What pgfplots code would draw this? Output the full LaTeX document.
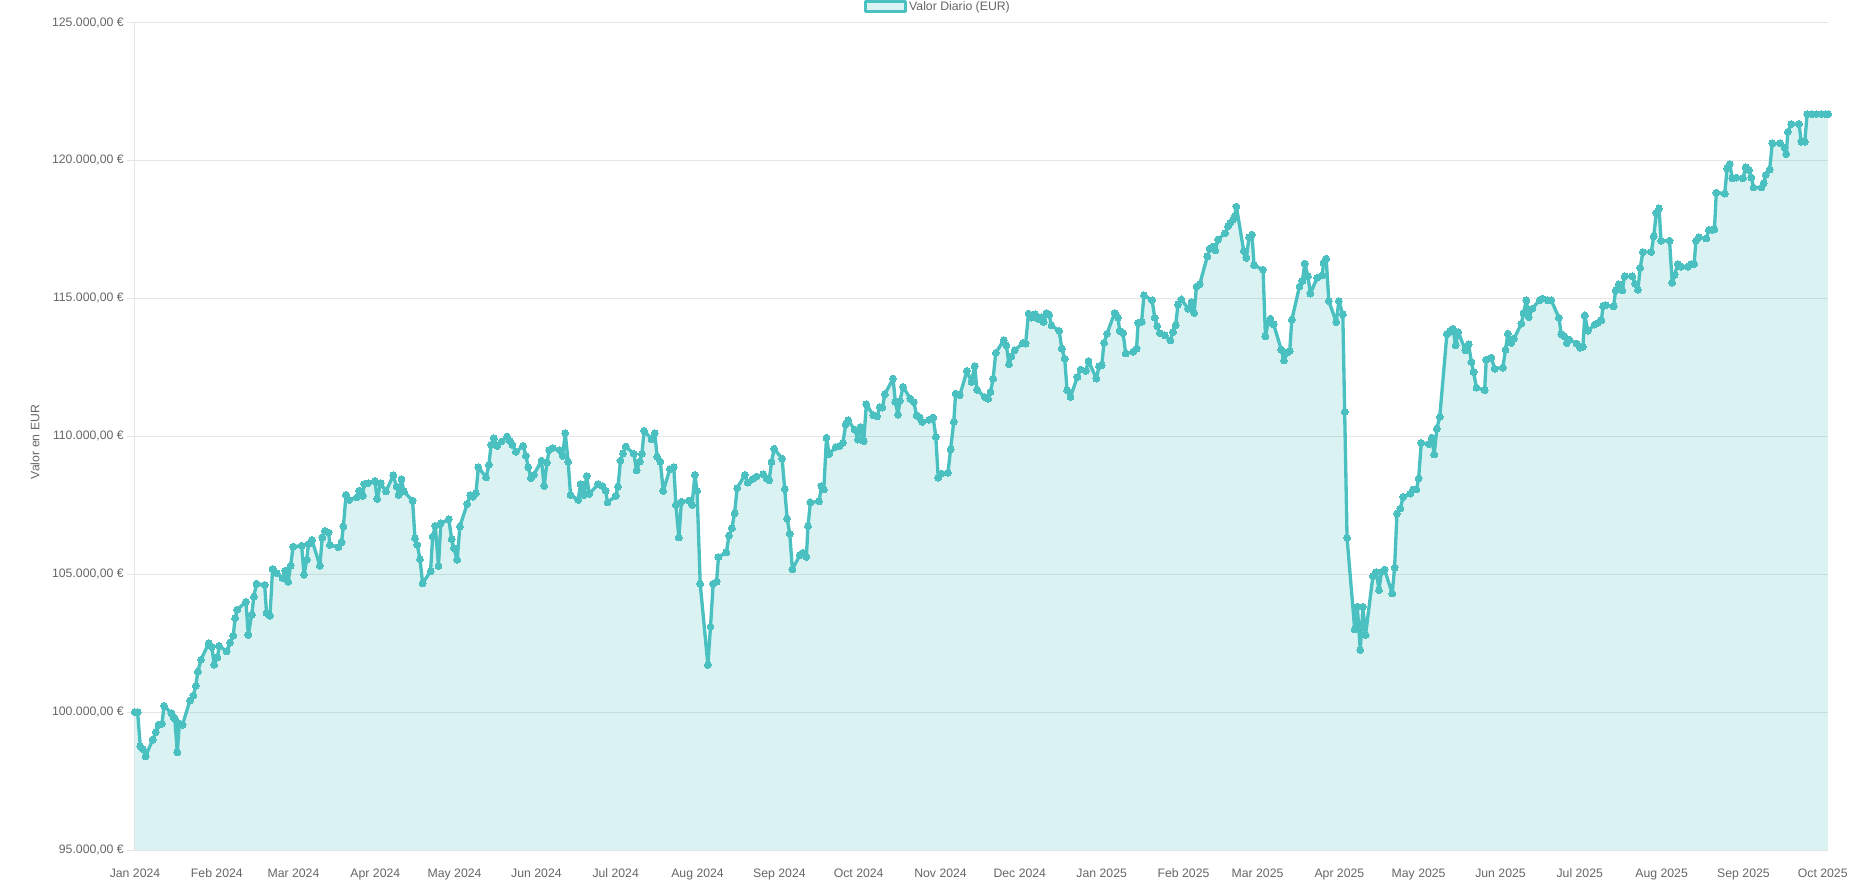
\documentclass[border=0pt]{standalone}
\usepackage{fontspec}
\setmainfont{Liberation Sans}
\usepackage{pgfplots}
\usepackage{pgfplotstable}
\pgfplotsset{compat=1.18}
\definecolor{tealc}{RGB}{75,192,192}
\definecolor{tealfill}{RGB}{219,242,242}
\definecolor{gridc}{RGB}{229,229,229}
\definecolor{txt}{RGB}{102,102,102}

\pgfplotstableread{
x y
0 100000
1 100000
2 98760
3 98660
4 98400
6.7 99000
7.9 99275
8.9 99540
10.2 99580
11 100230
13.8 99960
14.5 99840
15.1 99750
16 98540
16.8 99580
18 99540
20.8 100420
22.1 100600
23 100950
23.8 101470
25 101900
27.9 102500
29.1 102360
30 101715
31.2 101990
31.9 102400
34.7 102200
36 102520
37.2 102770
37.9 103400
38.7 103710
42 104000
42.9 102800
44.2 103530
45 104190
46 104650
49.1 104610
49.8 103590
51.1 103490
52.1 105190
53.6 105040
55.9 104855
56.9 105130
58 104730
58.9 105310
59.9 106000
63.1 106030
64 104980
65 105520
65.7 106100
67 106240
70 105310
70.9 106330
71.9 106570
73.3 106510
73.8 106060
77 105980
78.2 106160
78.9 106730
79.9 107870
81.1 107690
83.9 107780
84.9 108030
86.2 107840
86.8 108270
88.3 108300
90.8 108380
91.7 107730
93 108300
95 108000
97.8 108580
99 108180
99.8 107870
100.9 108450
101.8 108000
105.1 107660
106 106300
106.9 106060
107.9 105540
108.9 104670
111.9 105100
112.7 106360
113.7 106750
114.9 105300
115.8 106850
118.8 106990
119.9 106270
120.7 105940
122 105520
123 106730
125.8 107550
127 107870
128 107810
129.1 107930
130 108880
132.9 108510
134 108960
134.8 109690
135.9 109930
137.1 109650
138.8 109810
140.9 109990
141.9 109840
142.9 109690
144.2 109440
147 109650
148 109290
148.9 108880
149.9 108480
151 108600
153.9 109120
154.9 108200
156 109050
156.8 109500
158.1 109570
160.9 109500
161.9 109290
162.9 110110
164 109080
164.9 107870
167.8 107690
168.7 108270
170 107870
171 108560
172 107910
175.4 108270
177 108200
178.2 108030
178.9 107600
182 107840
182.9 108180
183.8 109120
184.8 109380
185.8 109630
188.9 109360
189.9 108760
191.1 109080
191.9 109360
192.8 110200
195.6 109890
196.8 110110
197.7 109260
198.9 109080
200 108020
202.5 108800
204 108880
204.8 107510
205.9 106330
206.9 107630
209.8 107670
210.9 107510
212 108600
212.8 108020
214 104650
216.9 101710
217.9 103100
218.9 104650
220.2 104730
220.9 105620
223.9 105790
224.9 106400
226 106670
227 107210
228 108120
230.9 108600
232 108320
233.8 108450
235.3 108540
237.9 108620
239.1 108470
240.1 108400
241 109070
242 109550
245 109190
246 108080
246.9 107020
247.9 106470
248.9 105170
251.7 105690
252.9 105770
254.2 105630
254.8 106740
255.7 107600
259 107640
259.9 108200
260.8 108070
261.8 109950
262.8 109350
265.3 109610
266.8 109650
268 109760
269.1 110430
270 110580
272.5 110240
273.7 109880
274.7 110340
275.9 109820
276.9 111160
279.5 110760
281 110720
282 111060
283 111040
283.9 111520
287 112090
287.9 111240
288.9 110780
289.6 111280
290.8 111790
293.6 111360
294.9 111240
295.9 110760
297.1 110680
298.1 110520
300.6 110600
302.2 110680
303.2 109980
304.1 108500
305.3 108650
307.8 108680
308.8 109530
310 110520
310.7 111550
312.3 111490
315 112370
316.7 111970
317.9 112540
318.8 111690
321.7 111420
323 111360
323.9 111610
324.9 112090
325.9 113020
328.9 113480
329.9 113300
330.9 112610
331.8 112900
333.1 113120
336.2 113380
337.2 113360
338.3 114450
339.5 114300
340.8 114420
342 114250
343.2 114320
344 114140
345.1 114470
346.1 114410
347 114020
349.9 113820
350.9 113180
352 112810
352.9 111670
354.2 111430
356.8 112150
358 112420
360 112370
361 112730
364 112090
365 112540
366 112570
366.9 113390
368 113720
370.9 114470
372.2 114300
372.8 113820
374.1 113740
375.1 113000
377.9 113060
379.2 113180
379.8 114110
381.1 114140
382 115110
385.1 114930
386.1 114300
387 113990
388 113740
389.9 113660
392 113480
393 113780
394 114020
394.9 114780
396.2 114960
398.7 114630
400 114870
401 114470
401.9 115430
403.1 115510
406 116520
406.9 116800
408.1 116880
409 116740
410 117130
412.8 117370
413.8 117610
414.7 117730
415.7 117850
416.3 117970
417 118330
419.8 116710
420.8 116470
421.8 117220
422.9 117310
423.7 116200
427.1 116040
428 113620
429 114110
429.9 114260
431.1 114060
434 113140
435 112750
436.1 113030
437.2 113090
438 114230
440.9 115430
442 115630
442.9 116260
444.1 115800
445 115170
447.6 115750
449.5 115830
450 116280
451 116440
452 114900
454.8 114140
455.8 114900
457.3 114420
458 110880
458.9 106320
461.8 103000
462.8 103820
463.9 102250
464.9 103820
465.9 102790
468.7 104930
470 105080
471 104420
471.9 105080
473.1 105170
476 104300
476.9 105240
477.8 107200
479.1 107380
480.1 107800
482.9 107920
483.9 108070
485.2 108070
486 108470
487 109760
489.9 109710
491 109950
491.9 109340
492.9 110280
494 110700
496.7 113700
498 113820
499 113900
500 113300
501 113780
503.7 113120
504.9 113330
506 112690
506.8 112330
507.9 111760
511 111670
511.6 112780
513.5 112850
514.8 112450
517.9 112490
518.9 113140
519.8 113720
521.1 113380
522.1 113540
524.9 114080
525.7 114470
526.8 114930
527.7 114320
529 114630
531.8 114930
533 114990
534.9 114930
536.2 114930
539.1 114300
540 113700
541.2 113620
542.1 113380
543.1 113500
545.9 113360
547.2 113210
548.2 113240
548.9 114380
550.1 113820
552.6 114050
553.9 114110
555.2 114200
555.8 114710
556.8 114750
559.8 114710
560.6 115290
561.8 115510
563.1 115290
564 115800
566.9 115800
568 115530
569 115310
569.9 116110
570.9 116680
574.1 116680
575 117250
576 118100
577 118260
577.8 117090
581 117090
582 115570
582.9 115850
584.1 116240
585.4 116150
587.9 116150
589.2 116240
590.3 116240
591 117090
592.1 117210
594.9 117170
595.9 117480
597.3 117480
598 117500
598.7 118830
601.9 118800
602.8 119710
603.8 119870
604.8 119350
606.3 119380
608.8 119350
609.8 119750
611.1 119650
612 119380
612.8 119020
615.8 119020
616.6 119170
617.4 119470
618.9 119670
619.9 120620
622.9 120620
624.6 120470
625.2 120230
625.8 121040
627.1 121320
630 121320
630.9 120680
632.2 120680
633.1 121680
634.8 121680
636.6 121680
638.5 121680
640 121680
641 121680
}\data

\begin{document}
\begin{tikzpicture}
\begin{axis}[
  scale only axis,
  width=1269.75pt, height=620.6pt,
  xmin=0, xmax=641, ymin=95000, ymax=125000,
  axis x line*=bottom, axis y line*=left,
  axis line style={draw=gridc, line width=0.75pt},
  ymajorgrids, grid style={draw=gridc, line width=0.75pt},
  ytick={95000,100000,105000,110000,115000,120000,125000},
  yticklabels={{95.000,00 €},{100.000,00 €},{105.000,00 €},{110.000,00 €},{115.000,00 €},{120.000,00 €},{125.000,00 €}},
  xtick={0,31,60,91,121,152,182,213,244,274,305,335,366,397,425,456,486,517,547,578,609,639},
  xticklabels={Jan 2024,Feb 2024,Mar 2024,Apr 2024,May 2024,Jun 2024,Jul 2024,Aug 2024,Sep 2024,Oct 2024,Nov 2024,Dec 2024,Jan 2025,Feb 2025,Mar 2025,Apr 2025,May 2025,Jun 2025,Jul 2025,Aug 2025,Sep 2025,Oct 2025},
  tick align=outside, major tick length=6pt,
  ytick style={draw=gridc, line width=0.75pt},
  xtick style={draw=none},
  yticklabel style={inner sep=0pt, xshift=-2.25pt, font=\fontsize{9.2}{11}\selectfont, text=txt},
  xticklabel style={inner sep=0pt, yshift=-8pt, font=\fontsize{9.2}{11}\selectfont, text=txt},
  ylabel={Valor en EUR},
  every axis y label/.style={at={(axis description cs:-0.0591,0.493)}, rotate=90, anchor=center, font=\fontsize{9.2}{11}\selectfont, text=txt},
  legend style={at={(axis description cs:0.4743,1.019)}, anchor=center, draw=none, fill=none, font=\fontsize{9.2}{11}\selectfont, text=txt, inner sep=0pt},
  legend cell align=left,
  legend image code/.code={\draw[line width=2.25pt, draw=tealc, fill=tealfill] (0pt,-3.75pt) rectangle (30pt,3.75pt);},
]
\addplot[draw=none, fill=tealc, fill opacity=0.2, forget plot] table[x=x,y=y] {\data} \closedcycle;
\addplot[draw=tealc, line width=2.5pt, line join=round, mark=*, mark size=2.6pt, mark options={fill=tealc, draw=tealc, line width=0pt}] table[x=x,y=y] {\data};
\addlegendentry{Valor Diario (EUR)}
\end{axis}
\pgfresetboundingbox
\path[use as bounding box] ([xshift=-101.25pt,yshift=-24pt]current axis.south west) rectangle ([xshift=27pt,yshift=16.9pt]current axis.north east);
\end{tikzpicture}
\end{document}
